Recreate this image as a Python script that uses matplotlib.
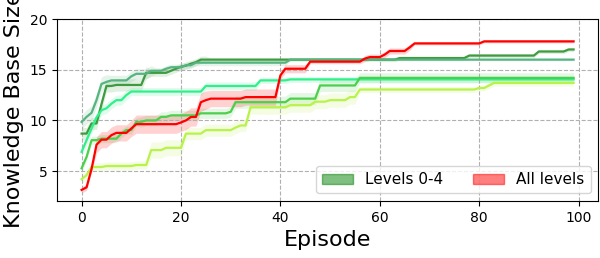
import numpy as np
import matplotlib
matplotlib.use("Agg")
import matplotlib.pyplot as plt
from matplotlib.patches import Patch

n_episodes = 100

# step data: (episode where value changes, new value)
run_dark = [(0, 8.7), (2, 9.7), (4, 11.6), (5, 13.4), (7, 13.5), (13, 14.7), (18, 14.9),
            (19, 15.1), (20, 15.3), (21, 15.4), (22, 15.6), (23, 15.75), (24, 16.0),
            (64, 16.15), (78, 16.4), (92, 16.8), (98, 17.0)]
run_sea = [(0, 9.85), (1, 10.35), (2, 10.75), (3, 12.0), (4, 13.6), (5, 13.8), (6, 13.95),
           (10, 14.35), (11, 14.6), (14, 14.9), (17, 15.1), (18, 15.25), (21, 15.45),
           (23, 15.7), (42, 16.0)]
run_spring = [(0, 6.9), (1, 8.05), (2, 9.2), (3, 10.3), (4, 11.0), (5, 11.2), (6, 11.65),
              (7, 12.0), (9, 12.5), (10, 12.85), (25, 13.4), (36, 13.95), (42, 14.05)]
run_lime = [(0, 5.27), (1, 6.4), (2, 8.05), (4, 8.2), (8, 8.7), (9, 9.05), (11, 9.85),
            (13, 10.0), (16, 10.35), (18, 10.5), (24, 10.7), (30, 10.85), (31, 11.8),
            (42, 12.15), (48, 13.45), (56, 14.2)]
run_yellow = [(0, 4.2), (1, 4.6), (2, 5.4), (5, 5.5), (11, 5.6), (14, 7.07), (17, 7.3),
              (21, 8.7), (25, 9.04), (31, 9.3), (32, 9.5), (34, 11.3), (42, 11.5),
              (47, 11.85), (50, 12.0), (54, 12.3), (56, 13.05), (80, 13.2), (82, 13.45),
              (83, 13.7)]
run_all = [(0, 3.14), (1, 3.4), (2, 5.2), (3, 7.6), (4, 8.1), (6, 8.55), (7, 8.77),
           (10, 9.2), (11, 9.63), (20, 9.8), (21, 10.0), (22, 10.34), (24, 11.8),
           (25, 12.0), (26, 12.15), (33, 12.3), (40, 14.44), (41, 15.1), (46, 15.8),
           (57, 16.1), (58, 16.25), (61, 16.5), (62, 16.85), (66, 17.2), (67, 17.6),
           (81, 17.8)]

# spread around each run, same step format
spread_dark = [(0, 0.6), (14, 0.35), (26, 0.15), (60, 0.2)]
spread_sea = [(0, 0.7), (6, 0.5), (15, 0.3), (42, 0.1)]
spread_spring = [(0, 0.5), (10, 0.4), (36, 0.3)]
spread_lime = [(0, 0.4), (12, 0.5), (31, 0.6), (56, 0.5)]
spread_yellow = [(0, 0.4), (14, 0.8), (21, 0.6), (34, 0.7), (56, 0.3)]
spread_all = [(0, 0.3), (3, 0.8), (11, 0.9), (26, 0.8), (40, 0.4), (46, 0.2), (57, 0.3),
              (67, 0.15)]


def steps(points):
    out = np.zeros(n_episodes)
    for i, (start, val) in enumerate(points):
        end = points[i + 1][0] if i + 1 < len(points) else n_episodes
        out[start:end] = val
    return out


episodes = np.arange(n_episodes)

runs = [
    (run_dark, spread_dark, "#3f9b3f"),
    (run_sea, spread_sea, "#55b47f"),
    (run_spring, spread_spring, "#30f08c"),
    (run_lime, spread_lime, "#4ccf4c"),
    (run_yellow, spread_yellow, "#b8f24a"),
]

fig, ax = plt.subplots(figsize=(6, 2.58), dpi=100)
fig.subplots_adjust(left=0.095, right=0.997, bottom=0.221, top=0.926)

for run, spread, col in runs:
    mean = steps(run)
    sd = steps(spread)
    ax.fill_between(episodes, mean - sd, mean + sd, color=col, alpha=0.15, lw=0)
    ax.plot(episodes, mean, color=col, lw=1.6)

mean = steps(run_all)
sd = steps(spread_all)
ax.fill_between(episodes, mean - sd, mean + sd, color="red", alpha=0.18, lw=0)
ax.plot(episodes, mean, color="red", lw=1.6)

ax.set_ylim(2.05, 20)
ax.set_yticks([5, 10, 15, 20])
ax.set_xticks([0, 20, 40, 60, 80, 100])
ax.grid(True, ls="--", color="#b0b0b0")
ax.set_xlabel("Episode", fontsize=16)
ax.set_ylabel("Knowledge Base Size", fontsize=16)

handles = [Patch(facecolor="green", edgecolor="green", alpha=0.5),
           Patch(facecolor="red", edgecolor="red", alpha=0.5)]
ax.legend(handles, ["Levels 0-4", "All levels"], loc="lower right", ncol=2, fontsize=11)

fig.savefig("out.png")
